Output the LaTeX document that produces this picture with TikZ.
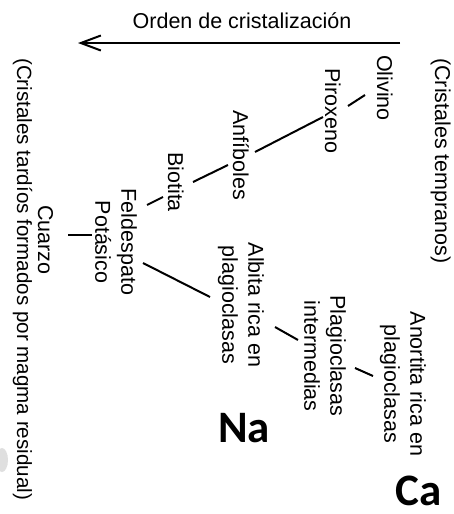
\documentclass[tikz,border=0pt]{standalone}
\usepackage{fontspec}
\setmainfont{Liberation Sans}
\newfontfamily\elemfont{Carlito}
\usetikzlibrary{arrows.meta, calc}

\begin{document}
\begin{tikzpicture}[x=1pt, y=-1pt,
        texto/.style={inner sep=0pt, font=\fontsize{21.5}{26}\selectfont},
        vertical/.style={texto, rotate=-90, anchor=base west},
        bloque/.style={texto, rotate=-90, align=center},
        enlace/.style={line width=2pt},
        elemento/.style={inner sep=0pt, anchor=base, font=\elemfont\bfseries\fontsize{45}{54}\selectfont}]

        % Marco de la figura
        \useasboundingbox (0,0) rectangle (453,514);

        % Titulo y flecha
        \node[texto, anchor=base] (titulo) at (242,28) {Orden de cristalización};
        \coordinate (inicio) at (400,43);
        \coordinate (fin) at (78,43);
        \draw[enlace, -{Straight Barb[length=20pt, width=15pt]}] (inicio) -- (fin);

        % Etiquetas laterales
        \node[vertical] (tempranos) at (435,58) {(Cristales tempranos)};
        \node[vertical, font=\fontsize{20.6}{25}\selectfont] (tardios) at (17,58) {(Cristales tardíos formados por magma residual)};

        % Serie discontinua
        \node[vertical] (olivino) at (377,55) {Olivino};
        \node[vertical] (piroxeno) at (325,68) {Piroxeno};
        \node[vertical] (anfiboles) at (233,110) {Anfíboles};
        \node[vertical] (biotita) at (168,152) {Biotita};
        \node[bloque] (feldespato) at (116,242) {Feldespato\\Potásico};
        \node[vertical] (cuarzo) at (38,205) {Cuarzo};

        % Serie continua
        \node[bloque] (albita) at (241,305) {Albita rica en\\plagioclasas};
        \node[bloque] (intermedias) at (325,356) {Plagioclasas\\intermedias};
        \node[bloque] (anortita) at (403,384) {Anortita rica en\\plagioclasas};

        % Elementos
        \node[elemento] (na) at (244,442) {Na};
        \node[elemento] (ca) at (419,505) {Ca};

        % Enlaces entre minerales
        \draw[enlace] ($(olivino.base west)+(-12,40)$) -- ($(piroxeno.base west)+(23,38)$);
        \draw[enlace] ($(piroxeno.base west)+(-2,49)$) -- ($(anfiboles.base west)+(22,42)$);
        \draw[enlace] ($(anfiboles.base west)+(-5,55)$) -- ($(biotita.base west)+(25,30)$);
        \draw[enlace] ($(biotita.base west)+(-5,45)$) -- ($(feldespato)+(31,-37)$);
        \draw[enlace] ($(feldespato)+(-24,-7)$) -- ($(cuarzo.base west)+(30,30)$);
        \draw[enlace] ($(feldespato)+(27,21)$) -- ($(albita)+(-31,-8)$);
        \draw[enlace] ($(albita)+(34,22)$) -- ($(intermedias)+(-27,-16)$);
        \draw[enlace] ($(intermedias)+(30,12)$) -- ($(anortita)+(-30,-8)$);

        % Mancha gris
        \fill[gray!25] (2,460) ellipse [x radius=6, y radius=12];
\end{tikzpicture}
\end{document}
